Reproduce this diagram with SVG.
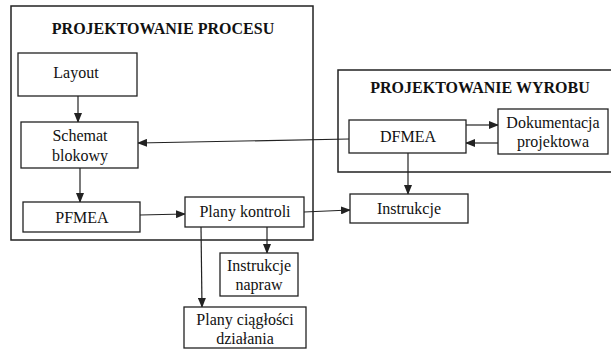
<svg xmlns="http://www.w3.org/2000/svg" width="611" height="354" viewBox="0 0 611 354">
<defs>
<marker id="ah" markerWidth="10" markerHeight="8" refX="9" refY="4" orient="auto" markerUnits="userSpaceOnUse">
<path d="M0,0 L10,4 L0,8 Z" fill="#222"/>
</marker>
<style>
.box{fill:#fff;stroke:#222;stroke-width:1.3}
.frame{fill:none;stroke:#222;stroke-width:1.5}
.t{font-family:"Liberation Serif","Times New Roman",serif;font-size:16px;fill:#111;text-anchor:middle}
.h{font-family:"Liberation Serif","Times New Roman",serif;font-size:16px;font-weight:bold;fill:#111;text-anchor:middle}
.c{fill:none;stroke:#222;stroke-width:1.2}
</style>
</defs>
<rect width="611" height="354" fill="#fff"/>
<g id="proces-frame">
<rect class="frame" x="11" y="6" width="302" height="234"/>
<text class="h" x="163" y="34">PROJEKTOWANIE PROCESU</text>
</g>
<g id="wyrob-frame">
<path class="frame" d="M614,70 L338,70 L338,172 L614,172"/>
<text class="h" x="480" y="93">PROJEKTOWANIE WYROBU</text>
</g>
<g id="connectors">
<line class="c" x1="78" y1="96" x2="78" y2="122" marker-end="url(#ah)"/>
<line class="c" x1="349" y1="139" x2="138" y2="143" marker-end="url(#ah)"/>
<line class="c" x1="80" y1="168" x2="80" y2="202" marker-end="url(#ah)"/>
<line class="c" x1="140" y1="215" x2="185" y2="214" marker-end="url(#ah)"/>
<line class="c" x1="304" y1="212" x2="350" y2="210" marker-end="url(#ah)"/>
<line class="c" x1="466" y1="125" x2="498" y2="125" marker-end="url(#ah)"/>
<line class="c" x1="498" y1="143" x2="466" y2="143" marker-end="url(#ah)"/>
<line class="c" x1="408" y1="153" x2="408" y2="194" marker-end="url(#ah)"/>
<line class="c" x1="201" y1="227" x2="202" y2="307" marker-end="url(#ah)"/>
<line class="c" x1="267" y1="227" x2="267" y2="253" marker-end="url(#ah)"/>
</g>
<g id="layout">
<rect class="box" x="18" y="53" width="119" height="43"/>
<text class="t" x="76" y="78">Layout</text>
</g>
<g id="schemat">
<rect class="box" x="21" y="122" width="117" height="46"/>
<text class="t" x="80" y="141">Schemat</text>
<text class="t" x="80" y="161">blokowy</text>
</g>
<g id="pfmea">
<rect class="box" x="23" y="202" width="117" height="30"/>
<text class="t" x="82" y="223">PFMEA</text>
</g>
<g id="plany-kontroli">
<rect class="box" x="185" y="197" width="119" height="30"/>
<text class="t" x="245" y="217">Plany kontroli</text>
</g>
<g id="instrukcje">
<rect class="box" x="350" y="194" width="118" height="29"/>
<text class="t" x="409" y="214">Instrukcje</text>
</g>
<g id="dfmea">
<rect class="box" x="349" y="120" width="117" height="33"/>
<text class="t" x="408" y="142">DFMEA</text>
</g>
<g id="dokumentacja">
<rect class="box" x="498" y="109" width="110" height="45"/>
<text class="t" x="553" y="128">Dokumentacja</text>
<text class="t" x="553" y="147">projektowa</text>
</g>
<g id="instrukcje-napraw">
<rect class="box" x="220" y="253" width="78" height="43"/>
<text class="t" x="259" y="271">Instrukcje</text>
<text class="t" x="259" y="290">napraw</text>
</g>
<g id="plany-ciaglosci">
<rect class="box" x="184" y="307" width="122" height="41"/>
<text class="t" x="245" y="325">Plany ciągłości</text>
<text class="t" x="245" y="344">działania</text>
</g>
</svg>
